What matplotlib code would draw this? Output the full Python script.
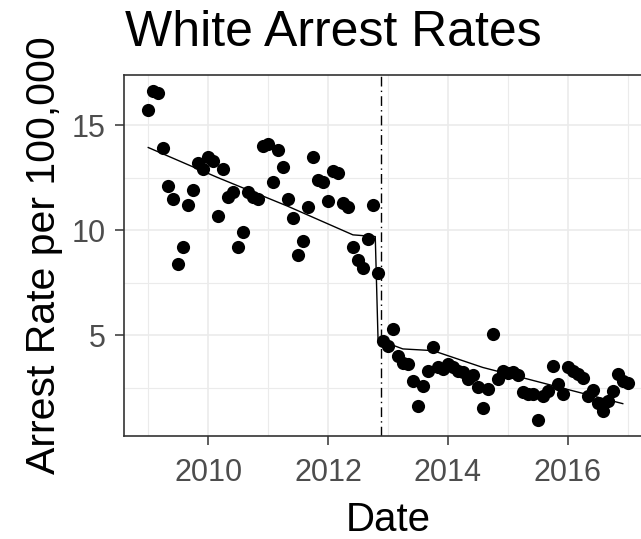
import pandas as pd
import matplotlib
matplotlib.use('Agg')
import matplotlib.pyplot as plt
import matplotlib.dates as mdates

plt.rcParams['font.family'] = ['Liberation Sans', 'DejaVu Sans']

# monthly arrest rates, Jan 2009 - Jan 2017
dates = pd.date_range('2009-01-01', periods=97, freq='MS')
rate_pre = [15.7, 16.6, 16.5, 13.9, 12.1, 11.5, 8.4, 9.2, 11.2, 11.9,
            13.2, 12.9, 13.5, 13.3, 10.7, 12.9, 11.6, 11.8, 9.2, 9.9,
            11.8, 11.6, 11.5, 14.0, 14.1, 12.3, 13.8, 13.0, 11.5, 10.6,
            8.8, 9.5, 11.1, 13.5, 12.4, 12.3, 11.4, 12.8, 12.7, 11.3,
            11.1, 9.2, 8.6, 8.2, 9.6, 11.2, 7.95]
rate_post = [4.76, 4.5, 5.3, 4.04, 3.7, 3.65, 2.85, 1.65, 2.6, 3.3,
             4.45, 3.5, 3.4, 3.65, 3.5, 3.3, 3.25, 2.93, 3.1, 2.53,
             1.57, 2.45, 5.08, 2.93, 3.33, 3.2, 3.25, 3.1, 2.3, 2.2,
             2.2, 1.0, 2.13, 2.37, 3.56, 2.69, 2.2, 3.5, 3.3, 3.17,
             3.0, 2.13, 2.4, 1.8, 1.4, 1.89, 2.37, 3.17, 2.85, 2.75]
rates = rate_pre + rate_post

# fitted segmented trend
fit_pre_dates = pd.to_datetime(['2009-01-01', '2010-03-01', '2011-05-01', '2012-06-01', '2012-10-15'])
fit_pre_vals = [13.93, 12.5, 11.14, 9.78, 9.7]
fit_post_dates = pd.to_datetime(['2012-11-01', '2013-04-01', '2013-10-01', '2014-08-01',
                                 '2015-05-01', '2016-02-01', '2016-12-01'])
fit_post_vals = [4.8, 4.36, 4.28, 3.48, 2.93, 2.37, 1.76]

break_date = pd.Timestamp('2012-11-20')

fig = plt.figure(figsize=(6.41, 5.39), dpi=100)
ax = fig.add_axes([0.1939, 0.191, 0.823, 0.670])

ax.scatter(dates, rates, s=90, color='black', zorder=3, linewidths=0)
ax.plot(list(fit_pre_dates) + list(fit_post_dates), fit_pre_vals + fit_post_vals,
        color='black', lw=1.0, zorder=4)
ax.axvline(break_date, color='black', lw=1.0, linestyle=(0, (7, 3, 1, 3)), zorder=2)

ax.xaxis.set_major_locator(mdates.YearLocator(2))
ax.xaxis.set_minor_locator(mdates.YearLocator(1))
ax.xaxis.set_major_formatter(mdates.DateFormatter('%Y'))
ax.set_yticks([5, 10, 15])
ax.set_yticks([2.5, 7.5, 12.5, 17.5], minor=True)
ax.margins(x=0.05, y=0.05)

ax.grid(which='major', color='#EBEBEB', lw=1.2)
ax.grid(which='minor', color='#EBEBEB', lw=0.8)
ax.set_axisbelow(True)
for sp in ax.spines.values():
    sp.set_color('#333333')
    sp.set_linewidth(1.2)
ax.tick_params(which='major', length=6.5, width=1.1, color='#333333',
               labelsize=22, labelcolor='#4D4D4D')
ax.tick_params(axis='x', pad=9)
ax.tick_params(axis='y', pad=7)
ax.tick_params(which='minor', length=0)

ax.set_xlabel('Date', fontsize=29, labelpad=10)
ax.set_ylabel('Arrest Rate per 100,000', fontsize=29.5, labelpad=6)
fig.text(0.195, 0.915, 'White Arrest Rates', fontsize=36, ha='left', va='baseline')

fig.savefig('out.png', dpi=100)
